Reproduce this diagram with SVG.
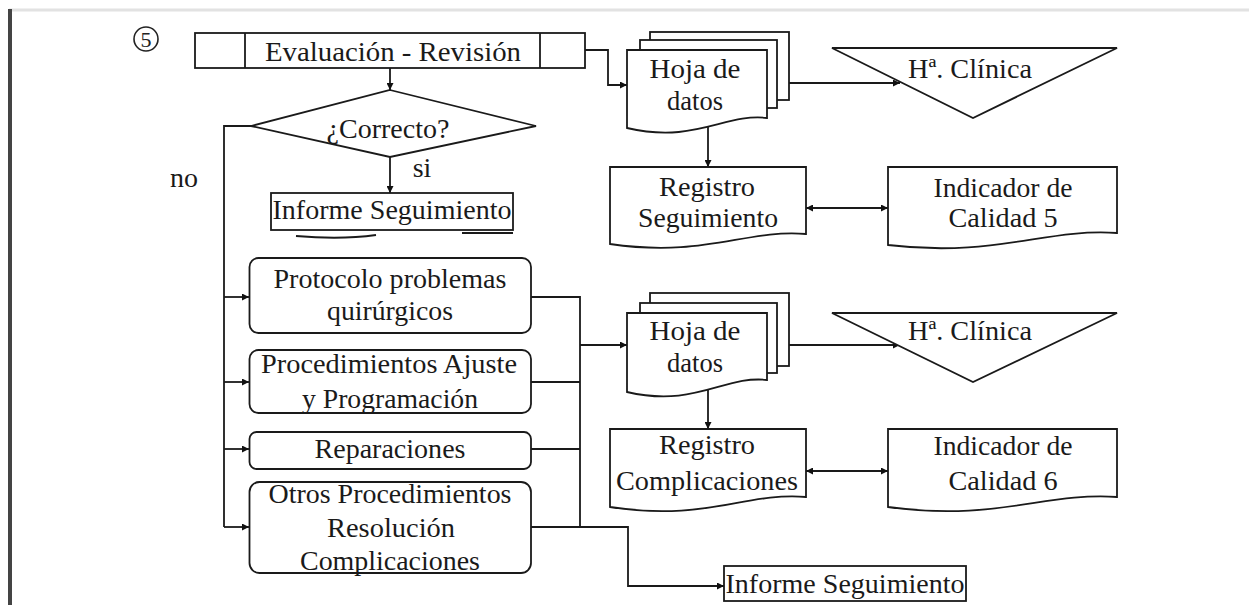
<svg xmlns="http://www.w3.org/2000/svg" width="1249" height="605" viewBox="0 0 1249 605">
<defs>
<marker id="ah" viewBox="0 0 8 8" refX="8" refY="4" markerWidth="7" markerHeight="7" markerUnits="userSpaceOnUse" orient="auto-start-reverse"><path d="M0,0 L8,4 L0,8 z" fill="#111"/></marker>
<style>
.s{fill:#fff;stroke:#1a1a1a;stroke-width:1.8}
.c{fill:none;stroke:#1a1a1a;stroke-width:1.8}
.t{font-family:"Liberation Serif","Times New Roman",serif;font-size:28px;fill:#1a1a1a;text-anchor:middle}
</style>
</defs>
<rect x="0" y="0" width="1249" height="605" fill="#fff"/>
<line x1="9" y1="10" x2="1249" y2="10" stroke="#e2e2e2" stroke-width="3"/>
<line x1="10" y1="9" x2="10" y2="605" stroke="#444" stroke-width="4"/>
<g id="num5">
<circle cx="146" cy="39" r="12" fill="none" stroke="#222" stroke-width="1.6"/>
<text x="146" y="47" style="font-family:'Liberation Serif',serif;font-size:22px;fill:#222;text-anchor:middle">5</text>
</g>

<g id="connectors">
<path class="c" d="M390,68 V90" marker-end="url(#ah)"/>
<path class="c" d="M390,157 V193" marker-end="url(#ah)"/>
<path class="c" d="M585,50 H608 V85 H627" marker-end="url(#ah)"/>
<path class="c" d="M789,83 H900" marker-end="url(#ah)"/>
<path class="c" d="M708,122 V167" marker-end="url(#ah)"/>
<path class="c" d="M806,208 H888" marker-start="url(#ah)" marker-end="url(#ah)"/>
<path class="c" d="M251,126 H224 V527"/>
<path class="c" d="M224,297 H249" marker-end="url(#ah)"/>
<path class="c" d="M224,382 H249" marker-end="url(#ah)"/>
<path class="c" d="M224,449 H249" marker-end="url(#ah)"/>
<path class="c" d="M224,527 H249" marker-end="url(#ah)"/>
<path class="c" d="M531,297 H580 V527"/>
<path class="c" d="M531,382 H580"/>
<path class="c" d="M531,449 H580"/>
<path class="c" d="M531,527 H580" stroke-width="2.6"/>
<path class="c" d="M580,345 H627" marker-end="url(#ah)"/>
<path class="c" d="M789,345 H900" marker-end="url(#ah)"/>
<path class="c" d="M708,386 V429" marker-end="url(#ah)"/>
<path class="c" d="M806,471 H888" marker-start="url(#ah)" marker-end="url(#ah)"/>
<path class="c" d="M580,527 H628 V586 H724" stroke="#444" marker-end="url(#ah)"/>
</g>

<g id="evaluacion">
<rect class="s" x="195" y="33" width="390" height="35"/>
<line class="c" x1="245" y1="33" x2="245" y2="68"/>
<line class="c" x1="540" y1="33" x2="540" y2="68"/>
<text class="t" x="393" y="61" textLength="256" lengthAdjust="spacingAndGlyphs">Evaluación - Revisión</text>
</g>

<g id="correcto">
<polygon class="s" points="390,90 536,126 390,157 251,126"/>
<text class="t" x="388" y="138" textLength="123" lengthAdjust="spacingAndGlyphs">¿Correcto?</text>
</g>
<g id="label-si"><text class="t" x="422" y="177">si</text></g>
<g id="label-no"><text class="t" x="184" y="187">no</text></g>

<g id="informe1">
<rect class="s" x="271" y="193" width="242" height="37"/>
<path class="c" d="M296,236 C330,239 355,238 376,235 M462,233 H513" stroke-width="1.4"/>
<text class="t" x="392" y="219" textLength="239" lengthAdjust="spacingAndGlyphs">Informe Seguimiento</text>
</g>

<g id="hoja1">
<rect class="s" x="650" y="32" width="139" height="68"/>
<rect class="s" x="640" y="40" width="137" height="68"/>
<path class="s" d="M627,50 H767 V118 C725,113 695,144 627,128 Z"/>
<text class="t" x="695" y="78" textLength="91" lengthAdjust="spacingAndGlyphs">Hoja de</text>
<text class="t" x="695" y="110" textLength="56" lengthAdjust="spacingAndGlyphs">datos</text>
</g>

<g id="clinica1">
<polygon class="s" points="832,48 1117,48 973,118"/>
<text class="t" x="970" y="78" textLength="124" lengthAdjust="spacingAndGlyphs">Hª. Clínica</text>
</g>

<g id="registro-seg">
<path class="s" d="M610,167 H806 V234 C745,229 705,258 610,244 Z"/>
<text class="t" x="707" y="196" textLength="96" lengthAdjust="spacingAndGlyphs">Registro</text>
<text class="t" x="708" y="227" textLength="140" lengthAdjust="spacingAndGlyphs">Seguimiento</text>
</g>

<g id="indicador5">
<path class="s" d="M888,167 H1117 V233 C1045,228 995,258 888,245 Z"/>
<text class="t" x="1003" y="197" textLength="139" lengthAdjust="spacingAndGlyphs">Indicador de</text>
<text class="t" x="1003" y="227" textLength="109" lengthAdjust="spacingAndGlyphs">Calidad 5</text>
</g>

<g id="protocolo">
<rect class="s" x="249.5" y="258" width="281.5" height="75" rx="9"/>
<text class="t" x="390" y="288" textLength="233" lengthAdjust="spacingAndGlyphs">Protocolo problemas</text>
<text class="t" x="390" y="320" textLength="126" lengthAdjust="spacingAndGlyphs">quirúrgicos</text>
</g>

<g id="procedimientos">
<rect class="s" x="249.5" y="350" width="281.5" height="63" rx="9"/>
<text class="t" x="389" y="373" textLength="256" lengthAdjust="spacingAndGlyphs">Procedimientos Ajuste</text>
<text class="t" x="390" y="408" textLength="176" lengthAdjust="spacingAndGlyphs">y Programación</text>
</g>

<g id="reparaciones">
<rect class="s" x="249.5" y="432" width="281.5" height="37" rx="7"/>
<text class="t" x="390" y="458" textLength="151" lengthAdjust="spacingAndGlyphs">Reparaciones</text>
</g>

<g id="otros">
<rect class="s" x="249.5" y="482" width="281.5" height="91" rx="10"/>
<text class="t" x="390" y="503" textLength="243" lengthAdjust="spacingAndGlyphs">Otros Procedimientos</text>
<text class="t" x="391" y="537" textLength="128" lengthAdjust="spacingAndGlyphs">Resolución</text>
<text class="t" x="390" y="570" textLength="180" lengthAdjust="spacingAndGlyphs">Complicaciones</text>
</g>

<g id="hoja2">
<rect class="s" x="650" y="293" width="139" height="73"/>
<rect class="s" x="640" y="303" width="137" height="70"/>
<path class="s" d="M627,313 H767 V380 C725,375 695,408 627,392 Z"/>
<text class="t" x="695" y="340" textLength="91" lengthAdjust="spacingAndGlyphs">Hoja de</text>
<text class="t" x="695" y="372" textLength="56" lengthAdjust="spacingAndGlyphs">datos</text>
</g>

<g id="clinica2">
<polygon class="s" points="832,313 1117,313 973,382"/>
<text class="t" x="970" y="340" textLength="124" lengthAdjust="spacingAndGlyphs">Hª. Clínica</text>
</g>

<g id="registro-comp">
<path class="s" d="M610,429 H806 V497 C745,492 705,522 610,507 Z"/>
<text class="t" x="707" y="454" textLength="96" lengthAdjust="spacingAndGlyphs">Registro</text>
<text class="t" x="707" y="490" textLength="182" lengthAdjust="spacingAndGlyphs">Complicaciones</text>
</g>

<g id="indicador6">
<path class="s" d="M888,429 H1117 V497 C1045,492 995,522 888,507 Z"/>
<text class="t" x="1003" y="455" textLength="139" lengthAdjust="spacingAndGlyphs">Indicador de</text>
<text class="t" x="1003" y="490" textLength="109" lengthAdjust="spacingAndGlyphs">Calidad 6</text>
</g>

<g id="informe2">
<rect class="s" x="724" y="566" width="242" height="35"/>
<text class="t" x="845" y="593" textLength="239" lengthAdjust="spacingAndGlyphs">Informe Seguimiento</text>
</g>
</svg>
